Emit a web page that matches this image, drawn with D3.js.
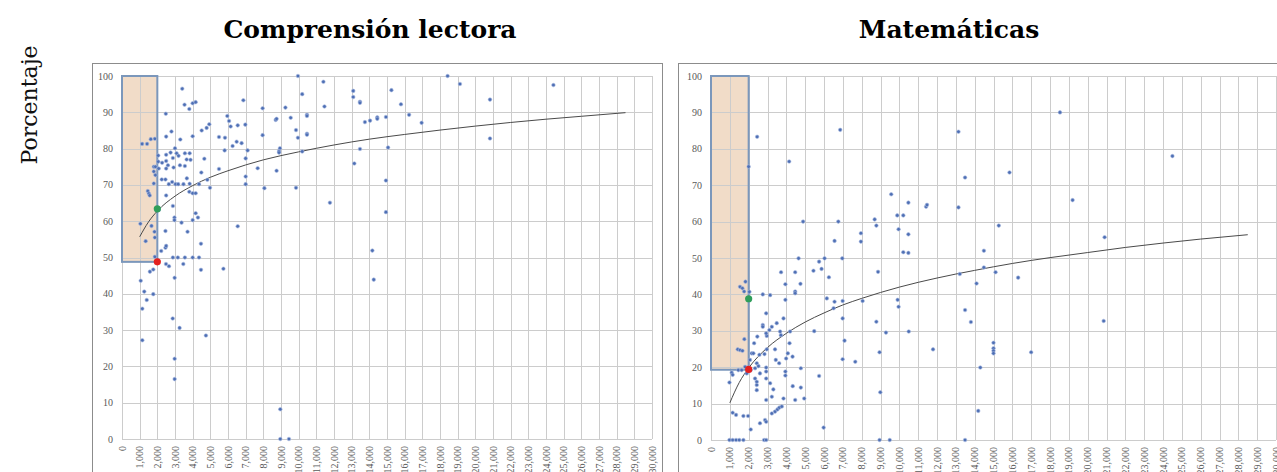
<!DOCTYPE html>
<html>
<head>
<meta charset="utf-8">
<script src="https://cdn.jsdelivr.net/npm/d3@7"></script>
<style>
  body { margin: 0; background: #fff; }
  svg { display: block; }
</style>
</head>
<body>
<div id="container"></div>
<script>
const width = 1277;
const height = 472;

// Titles
const titles = ["Comprensión lectora", "Matemáticas"];
const yLabel = "Porcentaje";

// Ticks
const xTicks = d3.range(0, 30001, 1000);
const yTicks = d3.range(0, 101, 10);

// Comprensión lectora: [gasto, porcentaje]
const lecturaPuntos = [
  [3410, 96.5], [3540, 92.1], [3810, 90.9], [4000, 92.5], [4170, 92.8], [2480, 89.6],
  [2500, 83.3], [2800, 84.7], [3300, 82.5], [4000, 83.4], [4510, 85.0], [4790, 85.7],
  [4940, 86.7], [5490, 83.2], [5810, 79.5], [1140, 81.3], [1420, 81.3], [1630, 82.6],
  [1860, 82.7], [2050, 78.1], [2050, 76.4], [1800, 75.0], [1890, 75.0], [1800, 73.7],
  [1890, 72.7], [1800, 70.4], [1460, 68.3], [1520, 67.6], [1570, 67.1], [2080, 74.5],
  [2270, 76.1], [2500, 78.3], [2500, 76.6], [2750, 78.9], [2880, 77.4], [3000, 80.1],
  [3090, 78.7], [3200, 78.0], [3280, 75.4], [2920, 74.8], [2600, 75.4], [2500, 74.5],
  [2250, 71.5], [2460, 71.5], [2650, 70.2], [2840, 70.8], [3030, 70.2], [3180, 70.2],
  [3480, 70.2], [3670, 71.8], [3830, 70.3], [3660, 77.0], [3880, 76.9], [3830, 78.7],
  [3560, 78.7], [3560, 75.2], [4660, 77.2], [4490, 73.4], [4360, 70.2], [4830, 71.4],
  [4980, 69.2], [5490, 74.4], [3810, 68.1], [4000, 67.7], [4170, 67.7], [2500, 67.1],
  [2880, 64.2], [2970, 61.0], [2970, 60.3], [3370, 59.6], [4000, 60.3], [4170, 62.2],
  [4300, 61.0], [3710, 57.1], [4470, 53.8], [2460, 57.3], [2460, 52.7], [2500, 53.2],
  [2220, 51.8], [1040, 59.3], [1340, 54.5], [1670, 58.7], [1840, 57.1], [1860, 55.5],
  [2080, 63.1], [1860, 50.2], [2880, 50.0], [3160, 50.0], [3560, 50.0], [4000, 50.0],
  [4360, 50.0], [2490, 48.2], [2660, 47.6], [3470, 48.2], [4470, 46.6], [5740, 46.9],
  [1770, 46.7], [1580, 46.1], [1060, 43.6], [2980, 44.4], [1260, 40.6], [1770, 39.9],
  [1400, 38.3], [1150, 35.9], [1150, 27.2], [2870, 33.2], [3260, 30.6], [4750, 28.5],
  [2980, 22.1], [2980, 16.5], [8960, 8.2], [8960, 0], [9450, 0],
  [9960, 100], [11400, 98.4], [10200, 95.0], [11460, 91.6], [6870, 93.3], [7960, 91.1],
  [9250, 91.3], [8700, 87.9], [8750, 88.2], [9550, 88.5], [10470, 89.3], [10470, 89.0],
  [5960, 89.0], [6060, 87.6], [6150, 86.1], [6550, 86.4], [6980, 86.6], [9850, 85.1],
  [9960, 83.0], [10470, 84.1], [10470, 83.8], [7960, 83.7], [5830, 83.0], [6260, 80.7],
  [6490, 81.9], [6770, 81.5], [7110, 79.5], [8940, 80.1], [8890, 79.3], [8890, 78.9],
  [10200, 79.2], [7000, 77.3], [7000, 72.3], [7000, 70.2], [7680, 74.6], [8750, 73.9],
  [8060, 69.1], [9850, 69.2], [11770, 65.1], [6550, 58.6],
  [13090, 95.9], [13090, 94.2], [13470, 92.9], [13470, 92.6], [15250, 96.1], [15790, 92.2],
  [18430, 100], [19130, 97.8], [20830, 93.5], [24420, 97.5], [13750, 87.3], [14040, 87.7],
  [14450, 88.6], [14450, 88.2], [14940, 88.7], [16250, 89.3], [16960, 87.1], [20830, 82.8],
  [13470, 79.9], [15060, 80.3], [13150, 75.9], [14940, 71.2], [14940, 62.5], [14170, 51.9],
  [14250, 43.9]
];

// Matemáticas: [gasto, porcentaje]
const matePuntos = [
  [2450, 83.3], [2000, 75.1], [4150, 76.5], [6860, 85.2], [9570, 67.5], [9890, 61.7],
  [10210, 61.7], [10480, 65.2], [10480, 56.5], [9960, 57.9], [10210, 51.6], [10480, 51.4],
  [11420, 64.1], [11470, 64.6], [8690, 60.6], [8780, 58.9], [7960, 56.8], [7960, 54.5],
  [6760, 60.0], [6560, 54.7], [4890, 60.0], [4650, 49.9], [5740, 49.0], [6030, 49.9],
  [6970, 49.9], [3720, 46.1], [4470, 46.1], [5440, 46.5], [5870, 47.0], [6260, 44.7],
  [4750, 42.9], [3950, 42.8], [6150, 38.9], [6510, 36.2], [6560, 38.0], [6990, 38.2],
  [8050, 38.2], [4470, 40.8], [4470, 40.3], [3950, 38.5], [2750, 40.0], [3140, 39.8],
  [2040, 40.7], [1540, 42.1], [1670, 41.7], [1760, 40.8], [1830, 43.5], [2930, 34.8],
  [2750, 31.6], [2750, 31.1], [3850, 33.4], [3490, 32.1], [3230, 31.1], [3100, 30.2],
  [3670, 29.8], [3710, 28.8], [4200, 29.8], [4170, 26.6], [4080, 23.8], [4330, 22.9],
  [3990, 22.4], [3440, 22.0], [3620, 21.1], [3400, 24.9], [2960, 24.9], [2460, 28.4],
  [2960, 28.6], [2930, 29.3], [2840, 23.6], [1770, 27.7], [1420, 24.9], [1540, 24.7],
  [1670, 24.5], [2290, 26.6], [2160, 23.8], [2250, 23.8], [2070, 22.0], [2570, 23.4],
  [2430, 21.1], [2520, 20.3], [2340, 19.7], [2600, 18.3], [2930, 19.9], [2930, 18.8],
  [2340, 16.9], [2430, 16.0], [2430, 15.1], [2430, 13.7], [2930, 16.9], [3140, 15.6],
  [3310, 13.9], [2930, 11.0], [3230, 11.9], [3850, 11.4], [4470, 11.0], [4950, 11.4],
  [4340, 14.8], [4770, 14.4], [3950, 18.8], [3950, 17.7], [4770, 19.7], [3230, 7.3],
  [3400, 7.8], [3530, 8.4], [3630, 8.9], [3760, 9.2], [2870, 5.5], [2930, 5.0],
  [2600, 4.6], [2110, 2.9], [1150, 7.5], [1330, 6.9], [1720, 6.6], [1970, 6.6],
  [980, 15.8], [1100, 18.5], [1150, 17.9], [1450, 19.2], [1630, 19.2], [1810, 20.1],
  [1900, 18.3], [1990, 20.0], [2110, 19.2], [980, 0], [1150, 0], [1330, 0],
  [1500, 0], [1720, 0], [2820, 0], [2930, 0], [5980, 3.4], [5740, 17.6],
  [5480, 29.9], [6990, 33.4], [6990, 22.2], [7090, 27.3], [7660, 21.5], [8780, 32.5],
  [8870, 46.2], [8950, 24.1], [8990, 13.1], [8950, 0], [9490, 0], [9290, 29.5],
  [9910, 38.5], [9960, 36.6], [10500, 29.8], [11790, 24.9],
  [13140, 84.7], [18530, 90.0], [24500, 78.0], [13490, 72.1], [15850, 73.5], [13140, 63.9],
  [19200, 65.9], [15280, 58.9], [20900, 55.7], [14490, 52.0], [14490, 47.4], [13210, 45.6],
  [15110, 46.1], [16310, 44.6], [14100, 43.0], [13490, 35.7], [13800, 32.4], [20850, 32.7],
  [15000, 26.7], [15000, 25.2], [15000, 24.5], [15000, 23.8], [17000, 24.1], [14300, 19.9],
  [14190, 8.0], [13490, 0]
];

// Trend lines
const lecturaTendencia = [
  [1000, 55.7], [1500, 59.8], [2000, 62.8], [3000, 66.9], [4000, 69.8], [5000, 72.1],
  [6000, 73.9], [7000, 75.5], [8000, 76.9], [10000, 79.1], [12000, 81.0], [14000, 82.6],
  [16000, 83.9], [18000, 85.1], [20000, 86.2], [22000, 87.2], [24000, 88.1], [26000, 88.9],
  [28500, 89.9]
];
const mateTendencia = [
  [1000, 10.2], [1500, 15.8], [2000, 19.8], [3000, 25.4], [4000, 29.3], [5000, 32.4],
  [6000, 34.9], [7000, 37.1], [8000, 38.9], [10000, 42.0], [12000, 44.5], [14000, 46.6],
  [16000, 48.5], [18000, 50.1], [20000, 51.5], [22000, 52.9], [24000, 54.1], [26000, 55.2],
  [28500, 56.4]
];

// Highlighted region and reference points
const lecturaZona = { x0: 0, x1: 2000, y0: 48.8, y1: 100 };
const mateZona = { x0: 0, x1: 2000, y0: 19.3, y1: 100 };
const lecturaMarcas = [[2000, 63.4, "verde"], [2000, 48.8, "rojo"]];
const mateMarcas = [[2000, 38.8, "verde"], [2000, 19.4, "rojo"]];

const markColour = { verde: "#2f9e5a", rojo: "#e3201f" };

const svg = d3
  .select("#container")
  .append("svg")
  .attr("width", width)
  .attr("height", height);

const serif = "'DejaVu Serif', 'Liberation Serif', serif";
const tickFont = "'Liberation Serif', serif";

// Vertical axis title
svg
  .append("text")
  .attr("transform", "translate(37,105) rotate(-90)")
  .attr("text-anchor", "middle")
  .style("font-family", serif)
  .style("font-size", "22px")
  .style("fill", "#111")
  .text(yLabel);

function drawPanel(cfg) {
  const g = svg.append("g");

  // outer frame
  g.append("rect")
    .attr("x", cfg.frame[0] + 0.5)
    .attr("y", 63.5)
    .attr("width", cfg.frame[1] - cfg.frame[0])
    .attr("height", 440)
    .attr("fill", "#fff")
    .attr("stroke", "#8c8c8c")
    .attr("stroke-width", 1);

  g.append("text")
    .attr("x", cfg.titleX)
    .attr("y", 38)
    .attr("text-anchor", "middle")
    .style("font-family", serif)
    .style("font-weight", "bold")
    .style("font-size", "25px")
    .style("fill", "#000")
    .text(cfg.title);

  const x = d3.scaleLinear().domain([0, 30000]).range(cfg.xRange);
  const y = d3.scaleLinear().domain([0, 100]).range(cfg.yRange);

  // highlighted zone fill
  const z = cfg.zona;
  g.append("rect")
    .attr("x", x(z.x0))
    .attr("y", y(z.y1))
    .attr("width", x(z.x1) - x(z.x0))
    .attr("height", y(z.y0) - y(z.y1))
    .attr("fill", "#f1dcc8");

  // grid
  g.append("g")
    .selectAll("line")
    .data(xTicks)
    .join("line")
    .attr("x1", (d) => Math.round(x(d)) + 0.5)
    .attr("x2", (d) => Math.round(x(d)) + 0.5)
    .attr("y1", y(100))
    .attr("y2", y(0))
    .attr("stroke", "#cccccc");

  g.append("g")
    .selectAll("line")
    .data(yTicks)
    .join("line")
    .attr("x1", x(0))
    .attr("x2", x(30000))
    .attr("y1", (d) => Math.round(y(d)) + 0.5)
    .attr("y2", (d) => Math.round(y(d)) + 0.5)
    .attr("stroke", "#cccccc");

  // zone border
  g.append("rect")
    .attr("x", x(z.x0))
    .attr("y", y(z.y1))
    .attr("width", x(z.x1) - x(z.x0))
    .attr("height", y(z.y0) - y(z.y1))
    .attr("fill", "none")
    .attr("stroke", "#7b97bb")
    .attr("stroke-width", 2);

  // y tick labels
  g.append("g")
    .selectAll("text")
    .data(yTicks)
    .join("text")
    .attr("x", x(0) - 9)
    .attr("y", (d) => y(d) + 3.5)
    .attr("text-anchor", "end")
    .style("font-family", tickFont)
    .style("font-size", "10px")
    .style("fill", "#595959")
    .text((d) => d);

  // x tick labels (rotated, cut at the bottom edge as in the source)
  g.append("g")
    .selectAll("text")
    .data(xTicks)
    .join("text")
    .attr("transform", (d) => `translate(${x(d) + 3.5},${y(0) + 7}) rotate(-90)`)
    .attr("text-anchor", "end")
    .style("font-family", tickFont)
    .style("font-size", "10px")
    .style("fill", "#595959")
    .text((d) => d3.format(",")(d));

  // trend line
  const line = d3
    .line()
    .x((d) => x(d[0]))
    .y((d) => y(d[1]))
    .curve(d3.curveMonotoneX);

  g.append("path")
    .datum(cfg.tendencia)
    .attr("d", line)
    .attr("fill", "none")
    .attr("stroke", "#4a4a4a")
    .attr("stroke-width", 1);

  // points
  g.append("g")
    .selectAll("circle")
    .data(cfg.puntos)
    .join("circle")
    .attr("cx", (d) => x(d[0]))
    .attr("cy", (d) => y(d[1]))
    .attr("r", 1.8)
    .attr("fill", "#4e6fb4")
    .attr("stroke", "#a9bbe0")
    .attr("stroke-width", 0.6);

  g.append("g")
    .selectAll("circle")
    .data(cfg.marcas)
    .join("circle")
    .attr("cx", (d) => x(d[0]))
    .attr("cy", (d) => y(d[1]))
    .attr("r", 3.6)
    .attr("fill", (d) => markColour[d[2]]);
}

drawPanel({
  title: titles[0],
  titleX: 370,
  frame: [92, 662],
  xRange: [122, 652],
  yRange: [439, 76],
  zona: lecturaZona,
  puntos: lecturaPuntos,
  tendencia: lecturaTendencia,
  marcas: lecturaMarcas,
});

drawPanel({
  title: titles[1],
  titleX: 949,
  frame: [678, 1290],
  xRange: [711, 1276],
  yRange: [440, 76],
  zona: mateZona,
  puntos: matePuntos,
  tendencia: mateTendencia,
  marcas: mateMarcas,
});
</script>
</body>
</html>
